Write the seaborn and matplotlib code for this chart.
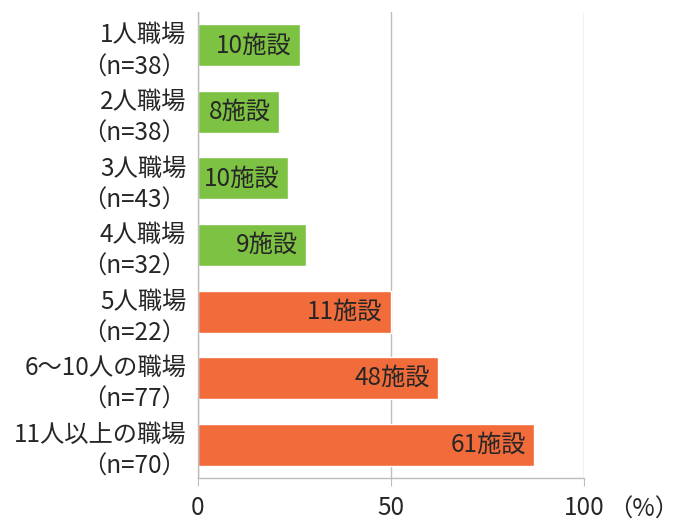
import matplotlib
matplotlib.use("Agg")
import matplotlib.pyplot as plt
import seaborn as sns
import pandas as pd

categories = ["1人職場\n（n=38）", "2人職場\n（n=38）", "3人職場\n（n=43）", "4人職場\n（n=32）",
              "5人職場\n（n=22）", "6～10人の職場\n（n=77）", "11人以上の職場\n（n=70）"]
percent = [26.3, 21.1, 23.3, 28.1, 50.0, 62.3, 87.1]
bar_labels = ["10施設", "8施設", "10施設", "9施設", "11施設", "48施設", "61施設"]
colors = ["#7DC242"] * 4 + ["#F26B3A"] * 3
x_ticks = [0, 50, 100]

sns.set_style("white")
plt.rcParams['font.family'] = ['Noto Sans CJK JP', 'DejaVu Sans']

FS = 17.5
df = pd.DataFrame({"cat": categories, "pct": percent})

fig = plt.figure(figsize=(6.8, 5.24), dpi=100)
ax = fig.add_axes([198/680, 1 - 478/524, (584 - 198)/680, (478 - 12)/524])

sns.barplot(data=df, y="cat", x="pct", hue="cat", palette=colors, legend=False,
            orient="h", width=0.63, saturation=1, ax=ax)

ax.set_xlim(0, 100)
ax.set_ylim(6.5, -0.5)
ax.set_xticks(x_ticks)
ax.set_xticklabels([str(t) for t in x_ticks])
ax.set_xlabel("")
ax.set_ylabel("")

ax.xaxis.grid(True, color="#BDBDBD", linewidth=1)
ax.yaxis.grid(False)
ax.set_axisbelow(True)
for s in ["top", "right"]:
    ax.spines[s].set_visible(False)
for s in ["left", "bottom"]:
    ax.spines[s].set_visible(True)
    ax.spines[s].set_color("#BDBDBD")
    ax.spines[s].set_linewidth(1)

ax.tick_params(axis="x", which="both", bottom=True, length=6, color="#BDBDBD",
               pad=6, labelsize=FS, labelcolor="#262626")
ax.tick_params(axis="y", left=False, pad=5, labelsize=FS, labelcolor="#262626")
for lbl in ax.get_yticklabels():
    lbl.set_horizontalalignment("right")
    lbl.set_multialignment("right")
    lbl.set_linespacing(1.3)

for i, (v, t) in enumerate(zip(percent, bar_labels)):
    ax.annotate(t, xy=(v, i), xytext=(-6, 0), textcoords="offset points",
                ha="right", va="center", fontsize=FS, color="#262626")

fig.text(608/680, 1 - 510/524, "（%）", ha="left", va="center", fontsize=FS, color="#262626")

fig.savefig("out.png", dpi=100)
